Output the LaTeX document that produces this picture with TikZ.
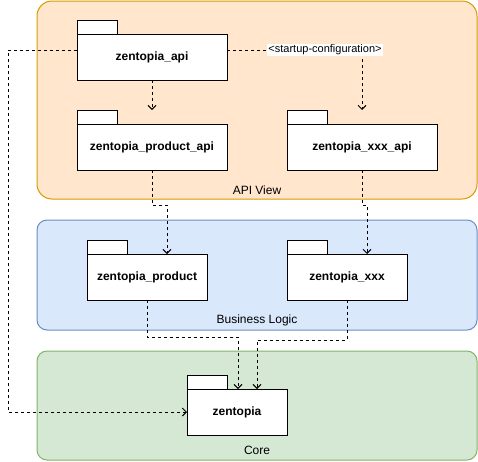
\documentclass[tikz,border=0pt]{standalone}
\usepackage{fontspec}
\setmainfont{Liberation Sans}
\usetikzlibrary{arrows.meta,calc}
\definecolor{apifill}{HTML}{FFE6CC}
\definecolor{apistroke}{HTML}{D79B00}
\definecolor{bizfill}{HTML}{DAE8FC}
\definecolor{bizstroke}{HTML}{6C8EBF}
\definecolor{corefill}{HTML}{D5E8D4}
\definecolor{corestroke}{HTML}{82B366}
\tikzset{
  container/.style={draw, line width=1pt, outer sep=0pt, minimum width=440pt, inner sep=0pt},
  pkg/.style={draw, fill=white, line width=1pt, outer sep=0pt, inner sep=0pt, minimum height=46pt,
    font=\fontsize{12}{14}\selectfont\bfseries},
  pkgtab/.style={draw, fill=white, line width=1pt, outer sep=0pt, inner sep=0pt, minimum width=40pt, minimum height=14pt, anchor=south west},
  clabel/.style={font=\fontsize{12}{14}\selectfont, inner sep=0pt},
  dep/.style={line width=1pt, dash pattern=on 3pt off 3pt, -{Straight Barb[length=4pt,width=8pt]}},
  elabel/.style={fill=white, font=\fontsize{11}{13}\selectfont, inner sep=1pt}
}
\begin{document}
\begin{tikzpicture}[x=1pt,y=-1pt]
\useasboundingbox[fill=white] (0,0) rectangle (478,461);
% containers
\node[container, fill=apifill, draw=apistroke, rounded corners=15pt, minimum height=198pt] (apiview) at (257,100) {};
\node[container, fill=bizfill, draw=bizstroke, rounded corners=10pt, minimum height=110pt] (biz) at (257,275) {};
\node[container, fill=corefill, draw=corestroke, rounded corners=10pt, minimum height=109pt] (corec) at (257,405.5) {};
\node[clabel] (apiviewlbl) at (257,190) {API View};
\node[clabel] (bizlbl) at (257,320) {Business Logic};
\node[clabel] (corelbl) at (257,450) {Core};
% packages
\node[pkg, minimum width=150pt] (api) at (152,57) {zentopia\_api};
\node[pkgtab] (apitab) at (api.north west) {};
\node[pkg, minimum width=150pt] (papi) at (152,147) {zentopia\_product\_api};
\node[pkgtab] (papitab) at (papi.north west) {};
\node[pkg, minimum width=150pt] (xapi) at (362,147) {zentopia\_xxx\_api};
\node[pkgtab] (xapitab) at (xapi.north west) {};
\node[pkg, minimum width=120pt] (prod) at (147,277) {zentopia\_product};
\node[pkgtab] (prodtab) at (prod.north west) {};
\node[pkg, minimum width=120pt] (xxx) at (347,277) {zentopia\_xxx};
\node[pkgtab] (xxxtab) at (xxx.north west) {};
\node[pkg, minimum width=100pt] (core) at (237,412) {zentopia};
\node[pkgtab] (coretab) at (core.north west) {};
% connectors
\draw[dep] (api.south) -- (papi.north |- papitab.north);
\draw[dep] ([yshift=7pt]api.east) -| (xapi.north |- xapitab.north)
  node[elabel, pos=0.363] (startlbl) {<startup-configuration>};
\draw[dep] ([yshift=7pt]api.west) -- ++(-69,0) |- (core.west);
\draw[dep] (papi.south) -- ++(0,35) -| ([xshift=20pt]prod.north);
\draw[dep] (xapi.south) -- ++(0,35) -| ([xshift=20pt]xxx.north);
\draw[dep] (prod.south) -- ++(0,37) -| ([xshift=1pt]core.north);
\draw[dep] (xxx.south) -- ++(0,40) -| ([xshift=20pt]core.north);
\end{tikzpicture}
\end{document}
